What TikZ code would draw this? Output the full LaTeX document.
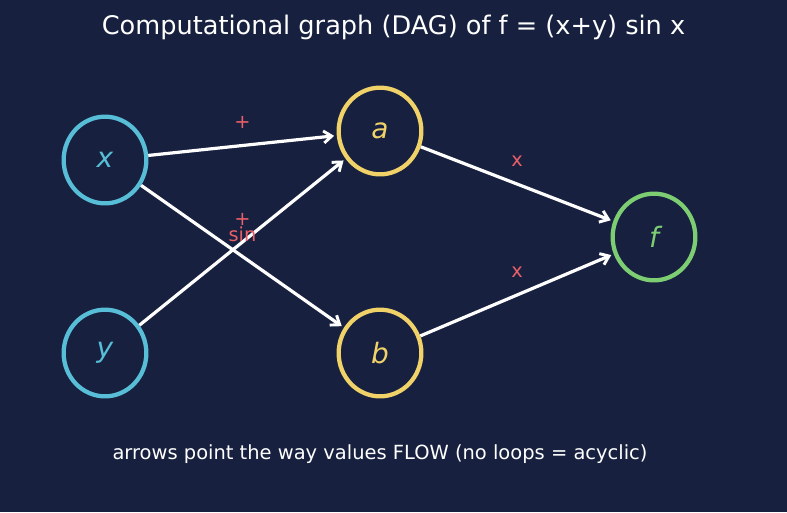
\documentclass[tikz,border=0pt]{standalone}
\usepackage{fontspec}
\setmainfont{DejaVu Sans}
\usepackage{tikz}
\usetikzlibrary{arrows.meta,positioning,calc,shapes.geometric}
\definecolor{clrBg}{RGB}{23,33,63}
\definecolor{clrIn}{RGB}{88,190,215}
\definecolor{clrMid}{RGB}{240,210,105}
\definecolor{clrOut}{RGB}{125,205,115}
\definecolor{clrOp}{RGB}{235,95,105}
\tikzset{
  var/.style={ellipse,draw,line width=3.2pt,minimum width=62pt,minimum height=65pt,
    inner sep=0pt,font=\fontsize{21}{24}\selectfont\itshape},
  varIn/.style={var,draw=clrIn,text=clrIn},
  varMid/.style={var,draw=clrMid,text=clrMid},
  varOut/.style={var,draw=clrOut,text=clrOut},
  flow/.style={-{Straight Barb[length=6pt,width=9pt,line width=2.2pt]},line width=2.4pt,
    white,shorten >=2pt},
  op/.style={font=\fontsize{14.5}{16}\selectfont,text=clrOp,inner sep=0pt,yshift=17pt}
}
\begin{document}
\begin{tikzpicture}[x=0.75pt,y=-0.75pt]
  \fill[clrBg] (0,0) rectangle (787,512);
  \useasboundingbox (0,0) rectangle (787,512);
  \node[white,font=\fontsize{19.2}{22}\selectfont] (title) at (393.5,27)
    {Computational graph (DAG) of f = (x+y) sin x};
  \node[varIn] (x) at (105,160) {x};
  \node[varIn] (y) at (105,353) {y};
  \node[varMid] (a) at (380,131) {a};
  \node[varMid] (b) at (380,353) {b};
  \node[varOut] (f) at (654,237) {f};
  \draw[flow] (x) -- (a) node[op,midway] (opxa) {+};
  \draw[flow] (y) -- (a) node[op,midway] (opya) {+};
  \draw[flow] (x) -- (b) node[op,midway] (opxb) {sin};
  \draw[flow] (a) -- (f) node[op,midway] (opaf) {x};
  \draw[flow] (b) -- (f) node[op,midway] (opbf) {x};
  \node[white,font=\fontsize{14.6}{17}\selectfont] (note) at (380,454)
    {arrows point the way values FLOW (no loops = acyclic)};
\end{tikzpicture}
\end{document}
